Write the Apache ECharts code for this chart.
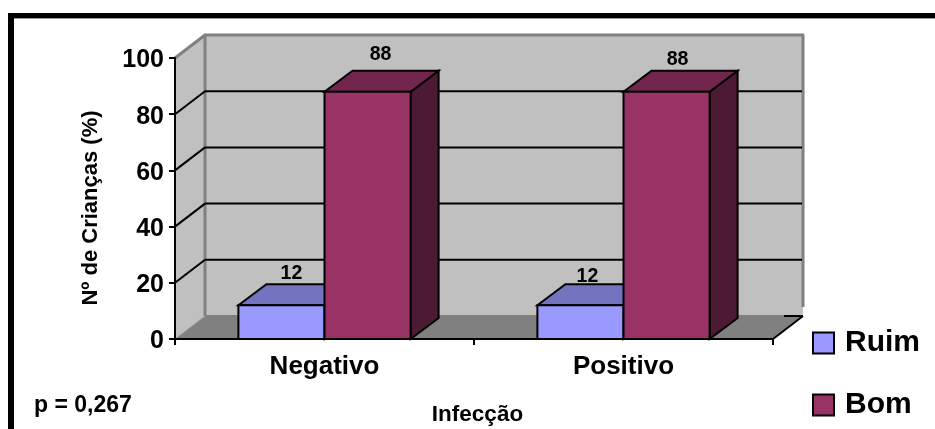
<!DOCTYPE html>
<html>
<head>
<meta charset="utf-8">
<title>Infecção</title>
<style>html,body{margin:0;padding:0;background:#fff}#chart{width:935px;height:429px}</style>
<script src="https://cdn.jsdelivr.net/npm/echarts@6/dist/echarts.min.js"></script>
</head>
<body>
<div id="chart"></div>
<script>
// Chart data
const categories = ['Negativo', 'Positivo'];
const ruim = [12, 12];
const bom = [88, 88];
const yTicks = [0, 20, 40, 60, 80, 100];

const FONT = '"Liberation Sans", Arial, sans-serif';

// Oblique projection offsets for the box behind the plot and for the bars
const WALL_DX = 30, WALL_DY = -23;
const BAR_DX = 28, BAR_DY = -21;
const BAR_SHARE = 0.288;      // bar width as a share of one category band
// Per-bar nudges of the value labels: [series][category] => [dx, dy]
const LABEL_NUDGE = [
  [[-4, -11], [-7, -8]],
  [[-1, -16], [-3, -11]]
];

function poly(points, fill, z2) {
  return {
    type: 'polygon', z2: z2 || 0,
    shape: { points: points },
    style: { fill: fill, stroke: '#000', lineWidth: 2, lineJoin: 'miter' }
  };
}
function line(x1, y1, x2, y2, color, width, z2) {
  return {
    type: 'line', z2: z2 || 0,
    shape: { x1: x1, y1: y1, x2: x2, y2: y2 },
    style: { stroke: color, lineWidth: width, lineCap: 'butt' }
  };
}

// Side wall, back wall, floor and gridlines of the 3D box
function renderBox(params, api) {
  const cs = params.coordSys;
  const x0 = cs.x, x1 = cs.x + cs.width;
  const yBase = api.coord([0, 0])[1];
  const yTop = api.coord([0, 100])[1];
  const bx0 = x0 + WALL_DX, bx1 = x1 + WALL_DX;
  const byBase = yBase + WALL_DY, byTop = yTop + WALL_DY;
  const kids = [
    { type: 'polygon', shape: { points: [[bx0, byTop], [bx1, byTop], [bx1, byBase], [bx0, byBase]] }, style: { fill: '#c0c0c0' } },
    { type: 'polygon', shape: { points: [[x0, yBase], [bx0, byBase], [bx0, byTop], [x0, yTop]] }, style: { fill: '#c0c0c0' } },
    { type: 'polygon', shape: { points: [[x0, yBase], [bx0, byBase], [bx1, byBase], [x1, yBase]] }, style: { fill: '#808080' } },
    line(bx0, byBase, bx0, byTop, '#808080', 3),
    line(bx0 - 1, byTop, bx1 + 1, byTop, '#808080', 3),
    line(bx1, byTop, bx1, byBase - 9, '#808080', 3),
    line(x0, yTop, bx0, byTop, '#808080', 3),
    line(x0, yBase, bx0, byBase, '#a0a0a0', 1),
    line(bx0, byBase, bx1 - 19, byBase, '#808080', 2)
  ];
  yTicks.forEach(function (v) {
    if (v === 0 || v === 100) return;
    const y = api.coord([0, v])[1];
    kids.push(line(x0, y, bx0, y + WALL_DY, '#000', 2, 1));
    kids.push(line(bx0, y + WALL_DY, bx1 - 1, y + WALL_DY, '#000', 2, 1));
  });
  // Black front-right floor edge
  kids.push(line(x1, yBase, bx1, byBase, '#000', 2, 2));
  kids.push(line(bx1 - 19, byBase, bx1, byBase, '#000', 2, 2));
  return { type: 'group', children: kids };
}

// A 3D bar: front, top and side faces plus its value label
function barRenderer(seriesIndex, front, top, side) {
  return function (params, api) {
    const cat = api.value(0), val = api.value(1);
    const p = api.coord([cat, val]);
    const base = api.coord([cat, 0]);
    const w = api.size([1, 0])[0] * BAR_SHARE;
    const l = seriesIndex === 0 ? p[0] - w : p[0];
    const r = l + w;
    const nudge = LABEL_NUDGE[seriesIndex][params.dataIndex];
    return {
      type: 'group',
      children: [
        poly([[r, p[1]], [r + BAR_DX, p[1] + BAR_DY], [r + BAR_DX, base[1] + BAR_DY], [r, base[1]]], side),
        poly([[l, p[1]], [l + BAR_DX, p[1] + BAR_DY], [r + BAR_DX, p[1] + BAR_DY], [r, p[1]]], top),
        poly([[l, p[1]], [r, p[1]], [r, base[1]], [l, base[1]]], front),
        {
          type: 'text', z2: 5,
          style: {
            text: String(val),
            x: (l + r + BAR_DX) / 2 + nudge[0],
            y: p[1] + BAR_DY + nudge[1],
            align: 'center', verticalAlign: 'middle',
            font: 'bold 19.5px ' + FONT, fill: '#000'
          }
        }
      ]
    };
  };
}

const chart = echarts.init(document.getElementById('chart'), null, { renderer: 'canvas' });
chart.setOption({
  animation: false,
  backgroundColor: '#fff',
  grid: { left: 175, top: 58, width: 598, height: 281, outerBoundsMode: 'none' },
  legend: {
    orient: 'vertical',
    left: 812, top: 328, height: 150, padding: 0,
    data: ['Ruim', 'Bom'],
    icon: 'rect',
    itemWidth: 21, itemHeight: 21, itemGap: 32,
    selectedMode: false,
    textStyle: { fontFamily: FONT, fontWeight: 'bold', fontSize: 30, color: '#000', lineHeight: 21, padding: [0, 0, 0, 6] }
  },
  xAxis: {
    type: 'category',
    data: categories,
    z: 6,
    name: 'Infecção',
    nameLocation: 'middle',
    nameGap: 64,
    nameTextStyle: { fontFamily: FONT, fontWeight: 'bold', fontSize: 22.5, color: '#000', padding: [0, 0, 0, 7] },
    axisLine: { lineStyle: { color: '#000', width: 2 } },
    axisTick: { show: true, inside: false, length: 6, alignWithLabel: false, lineStyle: { color: '#000', width: 2 } },
    axisLabel: { fontFamily: FONT, fontWeight: 'bold', fontSize: 26, color: '#000', margin: 15 },
    splitLine: { show: false }
  },
  yAxis: {
    type: 'value',
    min: 0, max: 100, interval: 20,
    z: 6,
    name: 'Nº de Crianças (%)',
    nameLocation: 'middle',
    nameGap: 73,
    nameRotate: 90,
    nameTextStyle: { fontFamily: FONT, fontWeight: 'bold', fontSize: 22, color: '#000', padding: [0, 19, 0, 0] },
    axisLine: { show: true, lineStyle: { color: '#000', width: 2 } },
    axisTick: { show: true, length: 6, lineStyle: { color: '#000', width: 2 } },
    axisLabel: { fontFamily: FONT, fontWeight: 'bold', fontSize: 25, color: '#000', margin: 11, verticalAlign: 'top', padding: [-10, 0, 0, 0] },
    splitLine: { show: false }
  },
  graphic: [
    { type: 'line', z: 10, shape: { x1: 11, y1: 429, x2: 11, y2: 13 }, style: { stroke: '#000', lineWidth: 6 } },
    { type: 'line', z: 10, shape: { x1: 8, y1: 15.5, x2: 935, y2: 15.5 }, style: { stroke: '#000', lineWidth: 5 } },
    { type: 'line', z: 9, shape: { x1: 14, y1: 18.5, x2: 935, y2: 18.5 }, style: { stroke: '#999', lineWidth: 1 } },
    {
      type: 'text', z: 10, left: 34, top: 394,
      style: { text: 'p = 0,267', font: 'bold 23px ' + FONT, fill: '#000' }
    }
  ],
  series: [
    {
      name: 'box', type: 'custom', z: 1, silent: true,
      renderItem: renderBox,
      data: [[0, 0]],
      encode: { x: 0, y: 1 }
    },
    {
      name: 'Ruim', type: 'custom', z: 2,
      itemStyle: { color: '#9999ff', borderColor: '#000', borderWidth: 2 },
      renderItem: barRenderer(0, '#9999ff', '#7373bf', '#4d4d80'),
      data: ruim.map(function (v, i) { return [i, v]; }),
      encode: { x: 0, y: 1 }
    },
    {
      name: 'Bom', type: 'custom', z: 3,
      itemStyle: { color: '#993366', borderColor: '#000', borderWidth: 2 },
      renderItem: barRenderer(1, '#993366', '#73264d', '#4d1a33'),
      data: bom.map(function (v, i) { return [i, v]; }),
      encode: { x: 0, y: 1 }
    }
  ]
});
</script>
</body>
</html>
